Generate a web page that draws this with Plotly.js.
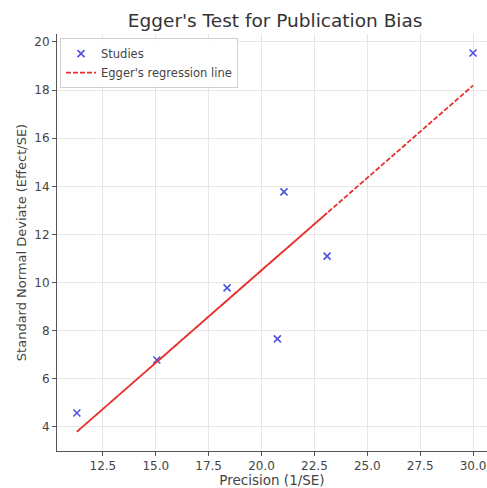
<!DOCTYPE html>
<html>
<head>
<meta charset="utf-8">
<script src="https://cdn.plot.ly/plotly-3.0.1.min.js"></script>
<style>html,body{margin:0;padding:0;background:#fff;}#chart{width:487px;height:488px;}</style>
</head>
<body>
<div id="chart"></div>
<script>
// Studies (order as plotted)
const precision = [20.75, 11.27, 23.10, 15.05, 21.06, 18.37, 30.00];
const snd       = [7.66,  4.58,  11.10, 6.78,  13.77, 9.78,  19.54];
// Egger's regression line values at each study's precision
const eggerLine = [11.09, 3.80, 12.89, 6.70, 11.33, 9.26, 18.19];

const seriesNames = ["Studies", "Egger's regression line"];
const xTicks = [12.5, 15.0, 17.5, 20.0, 22.5, 25.0, 27.5, 30.0];
const yTicks = [4, 6, 8, 10, 12, 14, 16, 18, 20];

const font = "DejaVu Sans, sans-serif";

const traces = [
  {
    x: precision, y: snd, mode: "markers", type: "scatter", name: seriesNames[0],
    marker: {symbol: "x-thin", size: 7, color: "#4a4ae0", line: {width: 1.6, color: "#5050e0"}}
  },
  {
    x: precision, y: eggerLine, mode: "lines", type: "scatter", name: seriesNames[1],
    line: {color: "#e8302c", width: 1.8, dash: "5px,2px", simplify: false}
  }
];

const layout = {
  width: 487, height: 488,
  margin: {l: 57, r: 0, t: 34, b: 37},
  paper_bgcolor: "#fff", plot_bgcolor: "#fff",
  font: {family: font, color: "#444", size: 11},
  title: {text: "Egger's Test for Publication Bias", font: {family: font, size: 18.5, color: "#333"},
          x: 0.565, xref: "container", xanchor: "center", y: 0.958, yref: "container", yanchor: "middle"},
  xaxis: {
    range: [10.33, 30.66], tickvals: xTicks, ticktext: xTicks.map(v => v.toFixed(1)),
    showgrid: true, gridcolor: "#e6e6e6", gridwidth: 1, zeroline: false,
    showline: true, linecolor: "#555", linewidth: 1, ticks: "outside", ticklen: 4, tickcolor: "#555",
    tickfont: {size: 12, color: "#444"},
    title: {text: "Precision (1/SE)", font: {size: 13.5, color: "#444"}, standoff: 2}
  },
  yaxis: {
    range: [3.0, 20.33], tickvals: yTicks,
    showgrid: true, gridcolor: "#e6e6e6", gridwidth: 1, zeroline: false,
    showline: true, linecolor: "#555", linewidth: 1, ticks: "outside", ticklen: 4, tickcolor: "#555",
    tickfont: {size: 12, color: "#444"},
    title: {text: "Standard Normal Deviate (Effect/SE)", font: {size: 13, color: "#444"}, standoff: 4}
  },
  legend: {x: 0.007, y: 0.99, xanchor: "left", yanchor: "top", bgcolor: "rgba(255,255,255,0.9)",
           bordercolor: "#d0d0d0", borderwidth: 1, font: {size: 11.5, color: "#444"}, tracegroupgap: 0,
           itemwidth: 30},
  showlegend: true
};

Plotly.newPlot("chart", traces, layout, {displayModeBar: false, staticPlot: true});
</script>
</body>
</html>
